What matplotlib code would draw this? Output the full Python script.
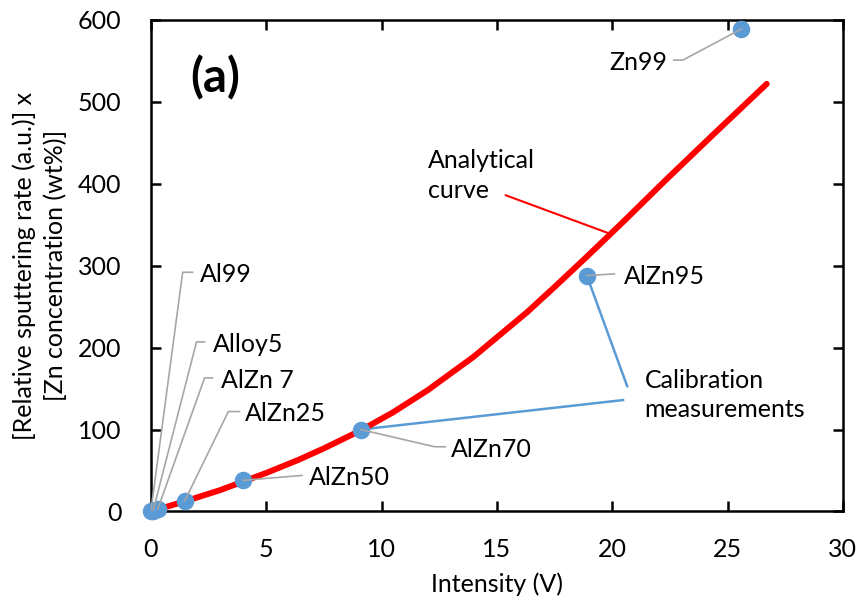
import matplotlib.pyplot as plt

plt.rcParams['font.family'] = ['Lato', 'DejaVu Sans']

# calibration samples: intensity (V), rate x concentration
names = ['Al99', 'Alloy5', 'AlZn 7', 'AlZn25', 'AlZn50', 'AlZn70', 'AlZn95', 'Zn99']
intensity = [0.0, 0.1, 0.3, 1.47, 4.0, 9.1, 18.9, 25.6]
signal = [0.0, 1.0, 3.0, 13.0, 38.0, 100.0, 288.0, 589.0]

# analytical curve
curve_x = [0, 1.5, 3, 4, 5, 6.4, 7.5, 9.1, 10.5, 12, 14, 16.3, 17.5,
           18.9, 19.9, 20.6, 22.3, 24.3, 26.7]
curve_y = [0, 12.6, 26, 36.5, 47, 63, 77, 99, 121, 148, 189, 243, 274,
           311, 338, 357, 404, 458, 522]

fig = plt.figure(figsize=(8.57, 6.06), dpi=100)
ax = fig.add_axes([0.176, 0.156, 0.8075, 0.811])

ax.plot(curve_x, curve_y, color='#FF0000', lw=4.3, solid_capstyle='round',
        solid_joinstyle='round', zorder=3)
ax.scatter(intensity, signal, s=135, color='#5B9BD5', zorder=4, clip_on=False)

grey = '#A6A6A6'
fs = 18

# leader lines with small elbows: (elbow x, end x), label y, text x
leaders = {
    'Al99':   ([1.38, 1.81], 292, 2.11),
    'Alloy5': ([1.98, 2.33], 207, 2.67),
    'AlZn 7': ([2.33, 2.67], 163, 3.06),
    'AlZn25': ([3.36, 3.84], 122, 4.09),
    'AlZn50': ([6.55, 6.55], 44, 6.85),
    'AlZn70': ([12.3, 12.76], 79, 13.0),
    'AlZn95': ([20.1, 20.1], 290, 20.5),
}
for i, n in enumerate(names[:-1]):
    (ex, hx), ly, tx = leaders[n]
    ax.plot([intensity[i], ex, hx], [signal[i], ly, ly], color=grey, lw=1.2, zorder=5)
    ax.text(tx, ly - 3, n, fontsize=fs, va='center', ha='left')

ax.plot([intensity[7], 23.06, 22.67], [signal[7], 551, 551], color=grey, lw=1.2, zorder=5)
ax.text(22.4, 548, 'Zn99', fontsize=fs, va='center', ha='right')

ax.text(12.03, 410, 'Analytical\ncurve', fontsize=fs, va='center', ha='left',
        linespacing=1.4)
ax.plot([15.39, 19.91], [386, 339], color='#FF0000', lw=1.5, zorder=2)

ax.text(21.4, 142, 'Calibration\nmeasurements', fontsize=fs, va='center', ha='left',
        linespacing=1.35)
ax.plot([intensity[6], 20.65], [signal[6], 153], color='#5B9BD5', lw=1.8, zorder=2)
ax.plot([intensity[5], 20.47], [signal[5], 136], color='#5B9BD5', lw=1.8, zorder=2)

ax.text(2.8, 530, '(a)', fontsize=34, fontweight='bold', ha='center', va='center')

ax.set_xlim(0, 30)
ax.set_ylim(0, 600)
ax.set_xticks(range(0, 31, 5))
ax.set_yticks(range(0, 601, 100))
ax.tick_params(direction='in', length=7, width=1.8, top=True, right=True,
               labelsize=fs)
ax.tick_params(axis='x', pad=19)
ax.tick_params(axis='y', pad=21)
for s in ax.spines.values():
    s.set_linewidth(1.8)

ax.set_xlabel('Intensity (V)', fontsize=fs, labelpad=8)
ax.set_ylabel('[Relative sputtering rate (a.u.)] x\n[Zn concentration (wt%)]',
              fontsize=fs, labelpad=8, linespacing=1.35)

plt.savefig('out.png', dpi=100)
